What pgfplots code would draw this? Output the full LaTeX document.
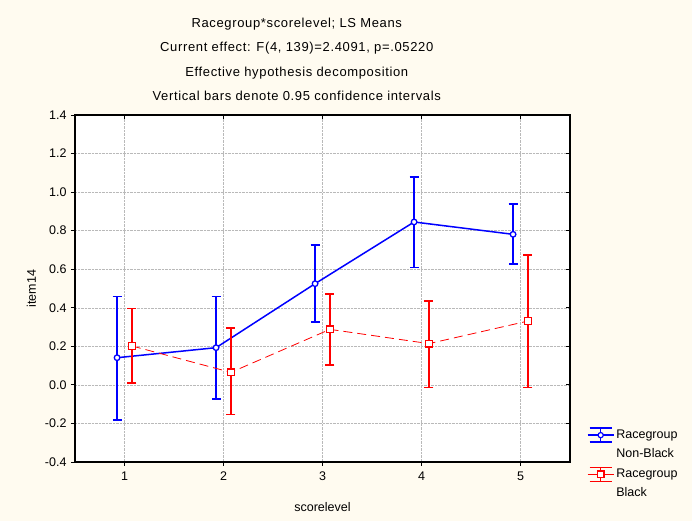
\documentclass[border=0pt]{standalone}
\usepackage{pgfplots}
\usepackage{pgfplotstable}
\pgfplotsset{compat=1.18}
\usepackage{fontspec}
\setmainfont{Liberation Sans}
\newfontfamily\titlefont[LetterSpace=5]{Liberation Sans}
\definecolor{bgcream}{RGB}{255,251,240}

\pgfplotstableread{
x y ep em
0.925 0.141 0.318 0.323
1.925 0.193 0.266 0.266
2.925 0.525 0.201 0.200
3.925 0.845 0.232 0.237
4.925 0.781 0.156 0.154
}\tabnonblack

\pgfplotstableread{
x y ep em
1.075 0.202 0.195 0.192
2.075 0.065 0.230 0.218
3.075 0.288 0.183 0.185
4.075 0.214 0.220 0.228
5.075 0.331 0.343 0.345
}\tabblack

\begin{document}
\begin{tikzpicture}
\useasboundingbox (-75pt,-59pt) rectangle (617pt,462pt);
\fill[bgcream] (-75pt,-59pt) rectangle (617pt,462pt);
\pgfplotsset{
  commonax/.style={
    at={(0pt,0pt)}, anchor=south west,
    scale only axis, width=495pt, height=347pt,
    xmin=0.5, xmax=5.5, ymin=-0.4, ymax=1.4,
    xtick={1,2,3,4,5},
    ytick={-0.4,-0.2,0,0.2,0.4,0.6,0.8,1.0,1.2,1.4},
    major tick length=4pt,
    tick style={black, line width=0.8pt},
  }
}
\begin{axis}[
  commonax,
  axis background/.style={fill=white},
  /pgf/number format/assume math mode=true,
  yticklabel style={/pgf/number format/fixed,/pgf/number format/fixed zerofill,/pgf/number format/precision=1},
  ticklabel style={font=\fontsize{12.5}{14}\selectfont},
  xticklabel style={yshift=-2pt},
  yticklabel style={xshift=-1pt},
  tick align=outside, xtick pos=bottom, ytick pos=left,
  axis line style={line width=1.3pt},
  grid=major, grid style={densely dotted, gray!55, line width=0.5pt},
  xlabel={scorelevel}, ylabel={item14},
  xlabel style={yshift=-15pt},
  ylabel style={yshift=2pt},
  label style={font=\fontsize{12.5}{14}\selectfont},
  title style={at={(0.448,1)}, anchor=south, yshift=5pt, align=center, font=\titlefont\fontsize{13}{24.2}\selectfont},
  title={Racegroup*scorelevel; LS Means\\Current effect: F(4, 139)=2.4091, p=.05220\\Effective hypothesis decomposition\\Vertical bars denote 0.95 confidence intervals},
  legend style={at={(1.034,0.10)}, anchor=north west, draw=none, fill=none,
    font=\fontsize{12.5}{19}\selectfont, nodes={align=left}, row sep=6pt, inner sep=0pt},
  legend cell align=left,
]
\addplot[blue, line width=1.5pt, mark=*, mark size=2.8pt,
  mark options={fill=white, line width=1.3pt},
  error bars/.cd, y dir=both, y explicit,
  error bar style={draw=blue, line width=1.6pt, solid},
  error mark options={draw=blue, rotate=90, line width=1.6pt, mark size=4.5pt},
  /pgfplots/.cd,
  legend image code/.code={
    \draw[blue, line width=1.3pt, solid] (0pt,9pt)--(26pt,9pt) (13pt,2pt)--(13pt,16pt) (2pt,16pt)--(24pt,16pt) (2pt,2pt)--(24pt,2pt);
    \draw[blue, line width=1.2pt, fill=white] (13pt,9pt) circle (2.6pt);
  }]
  table[x=x, y=y, y error plus=ep, y error minus=em]{\tabnonblack};
\addlegendentry{Racegroup\\Non-Black}

\addplot[red, line width=0.8pt, dash pattern=on 9pt off 5pt, mark=square*, mark size=3.4pt,
  mark options={fill=white, line width=1.4pt, solid},
  error bars/.cd, y dir=both, y explicit,
  error bar style={draw=red, line width=1.6pt, solid},
  error mark options={draw=red, rotate=90, line width=1.6pt, mark size=4.5pt, solid},
  /pgfplots/.cd,
  legend image code/.code={
    \draw[red, line width=1.3pt, solid] (0pt,9pt)--(26pt,9pt) (13pt,2pt)--(13pt,16pt) (2pt,16pt)--(24pt,16pt) (2pt,2pt)--(24pt,2pt);
    \draw[red, line width=1.3pt, fill=white, solid] (9.7pt,5.7pt) rectangle (16.3pt,12.3pt);
  }]
  table[x=x, y=y, y error plus=ep, y error minus=em]{\tabblack};
\addlegendentry{Racegroup\\Black}
\end{axis}
\begin{axis}[
  commonax,
  axis line style={line width=1.3pt},
  tick align=inside, xtick pos=top, ytick pos=right,
  xticklabels={}, yticklabels={},
]
\end{axis}
\end{tikzpicture}
\end{document}
